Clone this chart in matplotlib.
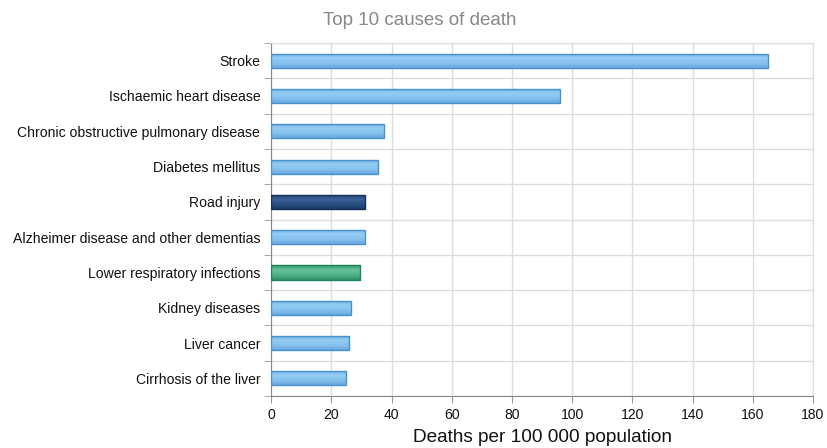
import matplotlib
matplotlib.use("Agg")
import matplotlib.pyplot as plt
import numpy as np
from matplotlib.colors import LinearSegmentedColormap

plt.rcParams['font.family'] = ['Liberation Sans', 'DejaVu Sans']

causes = ["Stroke", "Ischaemic heart disease", "Chronic obstructive pulmonary disease",
          "Diabetes mellitus", "Road injury", "Alzheimer disease and other dementias",
          "Lower respiratory infections", "Kidney diseases", "Liver cancer",
          "Cirrhosis of the liver"]
values = [165, 95.8, 37.3, 35.6, 31.0, 31.0, 29.4, 26.6, 26.0, 24.9]
kinds = ["ncd", "ncd", "ncd", "ncd", "inj", "ncd", "comm", "ncd", "ncd", "ncd"]
xticks = [0, 20, 40, 60, 80, 100, 120, 140, 160, 180]

grad = {
    "ncd": ["#6aaee3", "#95cdf2", "#86c2ee", "#6aa9df"],
    "inj": ["#1b3b68", "#3a6296", "#2a5185", "#1a3a66"],
    "comm": ["#33986d", "#66c29b", "#4fb187", "#2f9168"],
}
edge = {"ncd": "#4a91cc", "inj": "#14305a", "comm": "#1f8458"}

fig = plt.figure(figsize=(8.27, 4.48), dpi=100)
ax = fig.add_axes([0.328, 0.116, 0.655, 0.788])

n = len(causes)
ypos = np.arange(n)
h = 0.4
for i, (v, k) in enumerate(zip(values, kinds)):
    bars = ax.barh(i, v, height=h, color="none", edgecolor=edge[k], linewidth=1.0, zorder=4)
    cmap = LinearSegmentedColormap.from_list("g" + k, grad[k])
    img = ax.imshow(np.linspace(0, 1, 64).reshape(-1, 1), cmap=cmap, aspect="auto",
                    extent=(0, v, i + h / 2, i - h / 2), zorder=3, interpolation="bilinear")
    img.set_clip_path(bars.patches[0])

ax.set_aspect("auto")
ax.set_ylim(n - 0.5, -0.5)
ax.set_xlim(0, 180)
ax.set_xticks(xticks)
ax.set_yticks(ypos)
ax.set_yticklabels(causes, fontsize=10.1, color="#111111")
ax.set_yticks(np.arange(-0.5, n, 1), minor=True)
ax.tick_params(axis="y", which="major", length=0, pad=8)
ax.tick_params(axis="y", which="minor", length=5, color="#999999")
ax.tick_params(axis="x", length=5, color="#999999", labelsize=10.1, labelcolor="#111111")
ax.grid(axis="x", color="#dddddd", linewidth=1, zorder=0)
ax.grid(axis="y", which="minor", color="#dddddd", linewidth=1, zorder=0)
ax.set_axisbelow(True)
for s in ["top", "right"]:
    ax.spines[s].set_color("#dddddd")
ax.spines["left"].set_color("#888888")
ax.spines["bottom"].set_color("#888888")

ax.set_xlabel("Deaths per 100 000 population", fontsize=13.7, color="#111111", labelpad=5)
fig.text(0.508, 0.955, "Top 10 causes of death", ha="center", va="center",
         fontsize=13.5, color="#888888")

fig.savefig("out.png", dpi=100)
